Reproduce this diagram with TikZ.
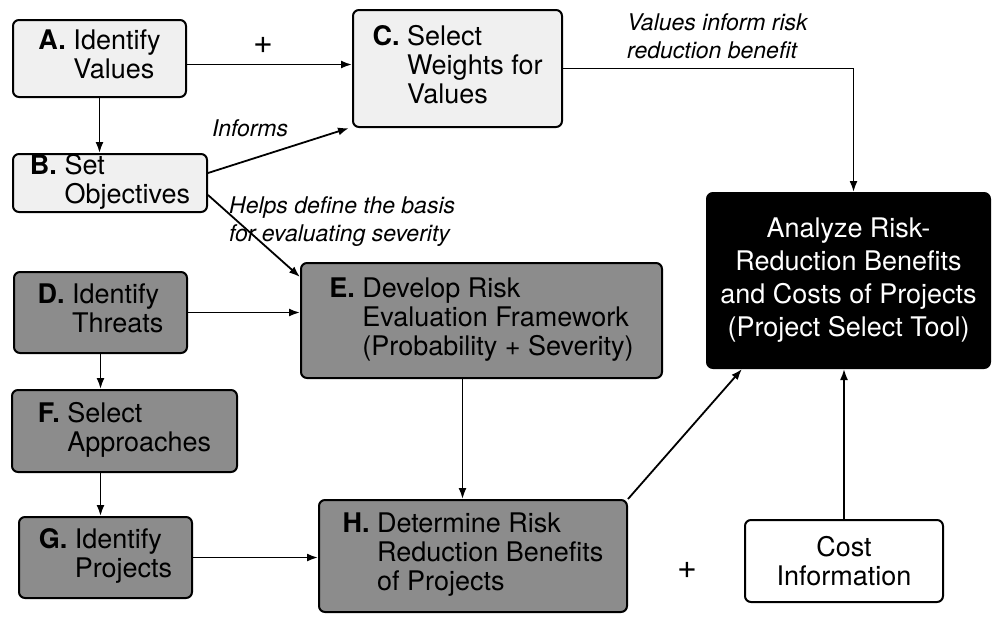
\documentclass[tikz,border=0pt]{standalone}
\usepackage{fontspec}
\setmainfont{TeX Gyre Heros}
\usetikzlibrary{arrows.meta}
\tikzstyle{box}=[draw, line width=2pt, rounded corners=6pt, inner sep=0pt, align=center, font=\fontsize{27}{29}\selectfont]
\tikzstyle{light box}=[box, fill=black!6]
\tikzstyle{dark box}=[box, fill=black!45]
\tikzstyle{tool box}=[box, fill=black, text=white, font=\fontsize{27}{33}\selectfont]
\tikzstyle{flow}=[line width=1.8pt, -{Latex[length=11pt,width=8pt]}]
\tikzstyle{remark}=[inner sep=0pt, align=left, font=\itshape\fontsize{23}{28}\selectfont]
\tikzstyle{plus}=[inner sep=0pt, font=\fontsize{34}{36}\selectfont]
\newcommand{\stepname}[2]{\textbf{#1.}~\begin{tabular}[t]{@{}l@{}}#2\end{tabular}}

\begin{document}
\begin{tikzpicture}[x=1pt, y=-1pt]
      \useasboundingbox (0,0) rectangle (992,616);
      % steps
      \node[light box, minimum width=173pt, minimum height=77pt] (A) at (99.5,58.5) {\stepname{A}{Identify\\Values}};
      \node[light box, minimum width=194pt, minimum height=58pt] (B) at (110,183) {\stepname{B}{Set\\Objectives}};
      \node[light box, minimum width=209pt, minimum height=117pt] (C) at (457.5,68.5) {\stepname{C}{Select\\Weights for\\Values}};
      \node[dark box, minimum width=173pt, minimum height=81pt] (D) at (100.5,312.5) {\stepname{D}{Identify\\Threats}};
      \node[dark box, minimum width=361pt, minimum height=115pt] (E) at (481.5,320.5) {\stepname{E}{Develop Risk\\Evaluation Framework\\(Probability + Severity)}};
      \node[dark box, minimum width=225pt, minimum height=82pt] (F) at (124.5,431) {\stepname{F}{Select\\Approaches}};
      \node[dark box, minimum width=173pt, minimum height=81pt] (G) at (105.5,557.5) {\stepname{G}{Identify\\Projects}};
      \node[dark box, minimum width=308pt, minimum height=112pt] (H) at (473,556) {\stepname{H}{Determine Risk\\Reduction Benefits\\of Projects}};
      \node[tool box, minimum width=283pt, minimum height=175pt] (tool) at (848.5,280.5) {Analyze Risk-\\Reduction Benefits\\and Costs of Projects\\(Project Select Tool)};
      \node[box, fill=white, minimum width=198pt, minimum height=82pt] (cost) at (844,561) {Cost\\Information};

      % connectors
      \draw[flow] ([yshift=-6pt]A.east) -- ([yshift=-6pt]A.east -| C.west);
      \draw[flow] (A.south) -- (A.south |- B.north);
      \draw[flow] ([yshift=10pt]B.east) -- ([xshift=-3pt]C.south west);
      \draw[flow] ([yshift=-12pt]B.east) -- ([yshift=-15pt]E.north west);
      \draw[flow] (C.east) -| ([xshift=5pt]tool.north);
      \draw[flow] (D.east) -- (D.east -| E.west);
      \draw[flow] (D.south) -- (D.south |- F.north);
      \draw[flow] (F.south -| D.south) -- (G.north -| D.south);
      \draw[flow] (G.east) -- (G.east -| H.west);
      \draw[flow] ([xshift=-19pt]E.south) -- ([xshift=-19pt]E.south |- H.north);
      \draw[flow] (H.north east) -- ([xshift=36pt]tool.south west);
      \draw[flow] (cost.north) -- (cost.north |- tool.south);

      % labels
      \node[plus] (plusAC) at (263,45) {+};
      \node[plus] (plusHcost) at (687,570) {+};
      \node[remark] (informs) at (250,128) {Informs};
      \node[remark, anchor=west] (helps) at (229,222) {Helps define the basis\\for evaluating severity};
      \node[remark, anchor=west] (values) at (627,36) {Values inform risk\\reduction benefit};
    \end{tikzpicture}
\end{document}
